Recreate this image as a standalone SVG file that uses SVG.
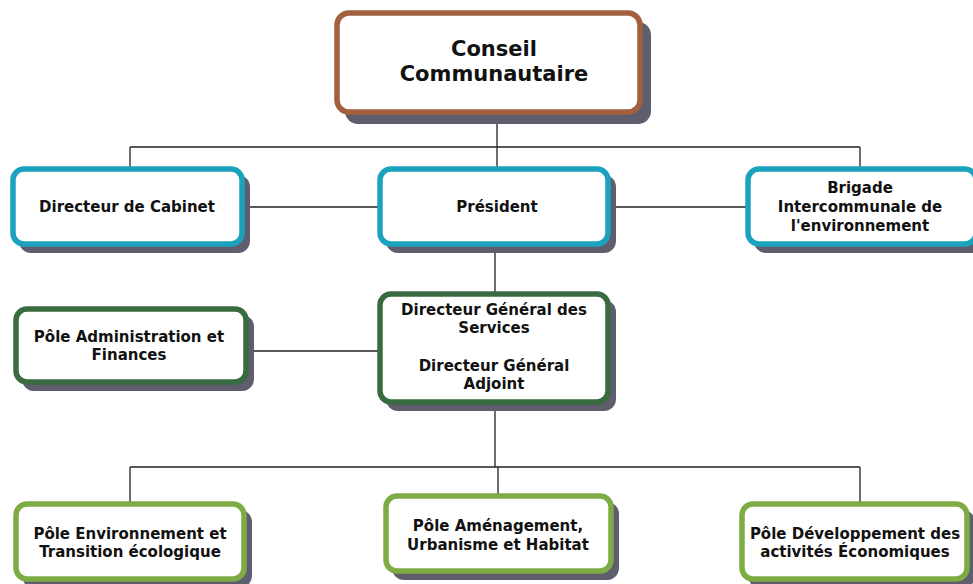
<svg xmlns="http://www.w3.org/2000/svg" width="973" height="584" viewBox="0 0 973 584">
<style>
.shadow{fill:#5e5e6e}
.box{fill:#fff;stroke-width:5.5}
.brown{stroke:#a2603f}
.teal{stroke:#1ba2bf}
.dgreen{stroke:#386b3f}
.lgreen{stroke:#7dac44}
.t{font-family:"DejaVu Sans",sans-serif;font-weight:bold;font-size:15px;fill:#111;text-anchor:middle}
.big{font-size:21px}
.conn{stroke:#222;stroke-width:1.3;fill:none}
</style>
<rect width="973" height="584" fill="#fff"/>
<g id="connectors">
<path class="conn" d="M497 113V167M130 147H860M130 147V167M860 147V167M244 207H378M610 207H746M495 245V292M248 351H378M495 403V467M130 467H860M130 467V502M498 467V494M860 467V502"/>
</g>
<g id="conseil">
<rect class="shadow" x="345" y="22" width="306" height="102" rx="13"/>
<rect class="box brown" x="337" y="13" width="303" height="99" rx="12"/>
<text class="t big" x="494" y="56">Conseil</text>
<text class="t big" x="494" y="81">Communautaire</text>
</g>
<g id="cabinet">
<rect class="shadow" x="19" y="175" width="231" height="78" rx="12"/>
<rect class="box teal" x="13" y="169" width="229" height="75" rx="11"/>
<text class="t" x="127" y="212">Directeur de Cabinet</text>
</g>
<g id="president">
<rect class="shadow" x="386" y="175" width="230" height="78" rx="12"/>
<rect class="box teal" x="380" y="169" width="228" height="75" rx="11"/>
<text class="t" x="497" y="212">Président</text>
</g>
<g id="brigade">
<rect class="shadow" x="754" y="175" width="230" height="78" rx="12"/>
<rect class="box teal" x="748" y="169" width="228" height="75" rx="11"/>
<text class="t" x="860" y="193">Brigade</text>
<text class="t" x="860" y="212">Intercommunale de</text>
<text class="t" x="860" y="231">l'environnement</text>
</g>
<g id="pole-admin">
<rect class="shadow" x="22" y="315" width="232" height="76" rx="12"/>
<rect class="box dgreen" x="16" y="309" width="230" height="73" rx="11"/>
<text class="t" x="129" y="342">Pôle Administration et</text>
<text class="t" x="129" y="360">Finances</text>
</g>
<g id="dgs">
<rect class="shadow" x="386" y="300" width="230" height="111" rx="12"/>
<rect class="box dgreen" x="380" y="294" width="228" height="108" rx="11"/>
<text class="t" x="494" y="315">Directeur Général des</text>
<text class="t" x="494" y="333">Services</text>
<text class="t" x="494" y="371">Directeur Général</text>
<text class="t" x="494" y="389">Adjoint</text>
</g>
<g id="pole-env">
<rect class="shadow" x="22" y="510" width="230" height="78" rx="12"/>
<rect class="box lgreen" x="16" y="504" width="228" height="75" rx="11"/>
<text class="t" x="130" y="539">Pôle Environnement et</text>
<text class="t" x="130" y="557">Transition écologique</text>
</g>
<g id="pole-amenagement">
<rect class="shadow" x="392" y="502" width="227" height="78" rx="12"/>
<rect class="box lgreen" x="386" y="496" width="225" height="75" rx="11"/>
<text class="t" x="498" y="531">Pôle Aménagement,</text>
<text class="t" x="498" y="550">Urbanisme et Habitat</text>
</g>
<g id="pole-dev">
<rect class="shadow" x="748" y="510" width="227" height="78" rx="12"/>
<rect class="box lgreen" x="742" y="504" width="225" height="75" rx="11"/>
<text class="t" x="855" y="539">Pôle Développement des</text>
<text class="t" x="855" y="557">activités Économiques</text>
</g>
</svg>
